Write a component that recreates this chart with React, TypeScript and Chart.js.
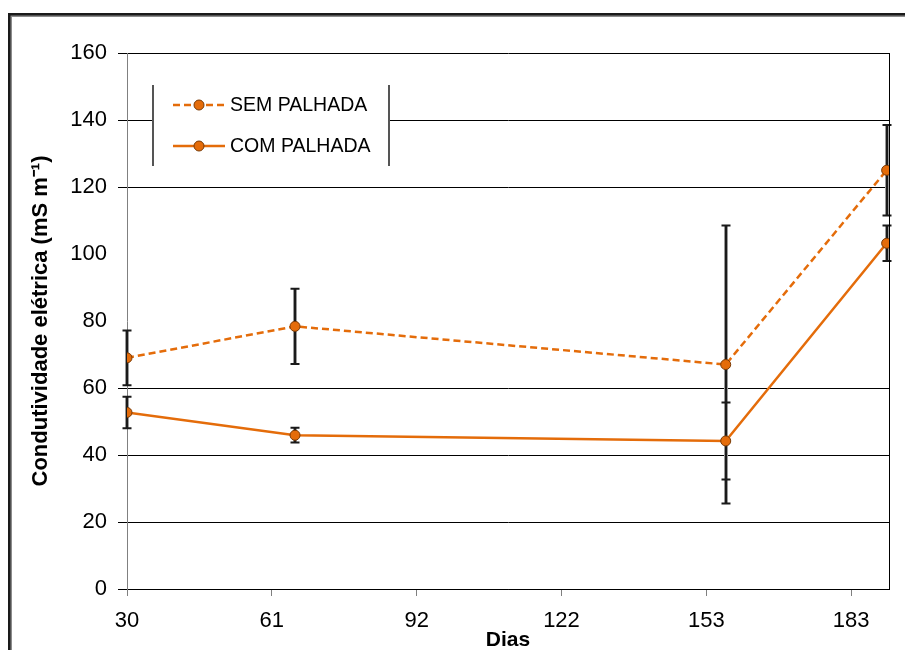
import React, { useEffect, useRef } from "react";
import { Chart, registerables } from "chart.js";

Chart.register(...registerables);

const FONT = "'Liberation Sans', Arial, sans-serif";

// Data
const days = [30, 65.5, 156.5, 190.5];
const semPalhada = [69, 78.4, 67, 125];
const semErr = [8.2, 11.2, 41.5, 13.5];
const comPalhada = [52.7, 45.9, 44.2, 103.2];
const comErr = [4.7, 2.2, 11.5, 5.3];

const xTickValues = [30, 60.6, 91.2, 121.8, 152.4, 183];
const xTickLabels = ["30", "61", "92", "122", "153", "183"];
const hiddenYGrid = [80, 100];

const seriesNames = ["SEM PALHADA", "COM PALHADA"];
const ORANGE = "#E46C0A";
const MARKER_BORDER = "#7A3A05";

const backgroundPlugin = {
  id: "bgFrame",
  beforeDraw(chart: any) {
    const { ctx, width, height } = chart;
    ctx.save();
    ctx.fillStyle = "#fff";
    ctx.fillRect(0, 0, width, height);
    ctx.restore();
  },
  afterDraw(chart: any) {
    const { ctx, width, height, chartArea } = chart;
    ctx.save();
    ctx.strokeStyle = "#000";
    ctx.lineWidth = 1;
    ctx.beginPath();
    ctx.moveTo(Math.round(chartArea.right) + 0.5, chartArea.top);
    ctx.lineTo(Math.round(chartArea.right) + 0.5, chartArea.bottom);
    ctx.stroke();
    ctx.fillStyle = "#8c8c8c";
    ctx.fillRect(10, 15, width - 10, 2);
    ctx.fillRect(10, 15, 2, height - 15);
    ctx.fillStyle = "#1a1a1a";
    ctx.fillRect(8, 13, width - 8, 2.5);
    ctx.fillRect(8, 13, 2.5, height - 13);
    ctx.restore();
  },
};

const errorBarPlugin = {
  id: "errorBars",
  beforeDatasetsDraw(chart: any) {
    const { ctx } = chart;
    const x = chart.scales.x;
    const y = chart.scales.y;
    const errs = [semErr, comErr];
    const vals = [semPalhada, comPalhada];
    ctx.save();
    vals.forEach((arr, di) => {
      arr.forEach((v, i) => {
        const px = Math.round(x.getPixelForValue(days[i]));
        const yt = y.getPixelForValue(v + errs[di][i]);
        const yb = y.getPixelForValue(v - errs[di][i]);
        ctx.strokeStyle = "#9a9a9a";
        ctx.lineWidth = 4;
        ctx.beginPath();
        ctx.moveTo(px, yt);
        ctx.lineTo(px, yb);
        ctx.stroke();
        ctx.strokeStyle = "#1a1a1a";
        ctx.lineWidth = 2;
        ctx.beginPath();
        ctx.moveTo(px, yt);
        ctx.lineTo(px, yb);
        ctx.stroke();
        ctx.beginPath();
        ctx.moveTo(px - 4.5, yt);
        ctx.lineTo(px + 4.5, yt);
        ctx.moveTo(px - 4.5, yb);
        ctx.lineTo(px + 4.5, yb);
        ctx.stroke();
      });
    });
    ctx.restore();
  },
};

const legendPlugin = {
  id: "customLegend",
  afterDraw(chart: any) {
    const { ctx } = chart;
    const left = 153;
    const right = 389;
    const top = 85;
    const bottom = 166;
    ctx.save();
    ctx.fillStyle = "#fff";
    ctx.fillRect(left, top, right - left, bottom - top);
    ctx.strokeStyle = "#555";
    ctx.lineWidth = 2;
    ctx.beginPath();
    ctx.moveTo(left, top);
    ctx.lineTo(left, bottom);
    ctx.moveTo(right, top);
    ctx.lineTo(right, bottom);
    ctx.stroke();
    const rows = [105, 146];
    rows.forEach((ry, i) => {
      ctx.strokeStyle = ORANGE;
      ctx.lineWidth = 2.5;
      ctx.setLineDash(i === 0 ? [7, 4] : []);
      ctx.beginPath();
      ctx.moveTo(173, ry);
      ctx.lineTo(225, ry);
      ctx.stroke();
      ctx.setLineDash([]);
      ctx.fillStyle = ORANGE;
      ctx.strokeStyle = MARKER_BORDER;
      ctx.lineWidth = 1;
      ctx.beginPath();
      ctx.arc(199, ry, 5, 0, Math.PI * 2);
      ctx.fill();
      ctx.stroke();
      ctx.fillStyle = "#000";
      ctx.font = `19.5px ${FONT}`;
      ctx.textBaseline = "middle";
      ctx.textAlign = "left";
      ctx.fillText(seriesNames[i], 230, ry + 1);
    });
    ctx.restore();
  },
};

export default function App() {
  const ref = useRef<HTMLCanvasElement | null>(null);

  useEffect(() => {
    if (!ref.current) return;
    const chart = new Chart(ref.current, {
      type: "line",
      data: {
        datasets: [
          {
            label: seriesNames[0],
            data: days.map((d, i) => ({ x: d, y: semPalhada[i] })),
            borderColor: ORANGE,
            backgroundColor: ORANGE,
            borderWidth: 2.5,
            borderDash: [7, 4],
            pointRadius: 5,
            pointBackgroundColor: ORANGE,
            pointBorderColor: MARKER_BORDER,
            pointBorderWidth: 1,
            tension: 0,
          },
          {
            label: seriesNames[1],
            data: days.map((d, i) => ({ x: d, y: comPalhada[i] })),
            borderColor: ORANGE,
            backgroundColor: ORANGE,
            borderWidth: 2.5,
            pointRadius: 5,
            pointBackgroundColor: ORANGE,
            pointBorderColor: MARKER_BORDER,
            pointBorderWidth: 1,
            tension: 0,
          },
        ],
      },
      options: {
        animation: false,
        responsive: false,
        maintainAspectRatio: false,
        layout: { padding: { left: 0, top: 53, right: 16, bottom: 0 } },
        plugins: {
          legend: { display: false },
          tooltip: { enabled: false },
        },
        scales: {
          x: {
            type: "linear",
            min: 30,
            max: 191,
            afterBuildTicks: (s: any) => {
              s.ticks = xTickValues.map((v) => ({ value: v }));
            },
            afterFit: (s: any) => {
              s.height = 61;
            },
            ticks: {
              autoSkip: false,
              maxRotation: 0,
              padding: 12,
              color: "#000",
              font: { family: FONT, size: 22 },
              callback: (_v: any, i: number) => xTickLabels[i],
            },
            grid: {
              drawOnChartArea: false,
              color: "#808080",
              tickLength: 7,
            },
            border: { color: "#000", width: 1 },
            title: {
              display: true,
              text: "Dias",
              color: "#000",
              font: { family: FONT, size: 21, weight: "bold" },
              padding: { top: 0, bottom: -3 },
            },
          },
          y: {
            min: 0,
            max: 160,
            afterFit: (s: any) => {
              s.width = 127;
            },
            ticks: {
              stepSize: 20,
              padding: 11,
              color: "#000",
              font: { family: FONT, size: 22 },
            },
            grid: {
              color: (c: any) =>
                hiddenYGrid.includes(c.tick?.value) ? "rgba(0,0,0,0)" : "#000",
              lineWidth: 1,
              tickLength: 9,
            },
            border: { color: "#808080", width: 1 },
            title: {
              display: true,
              text: "Condutividade elétrica (mS m⁻¹)",
              color: "#000",
              font: { family: FONT, size: 22, weight: "bold" },
              padding: { top: 28, bottom: 0 },
            },
          },
        },
      },
      plugins: [backgroundPlugin, errorBarPlugin, legendPlugin],
    } as any);
    return () => chart.destroy();
  }, []);

  return (
    <div style={{ position: "absolute", left: 0, top: 0, width: 905, height: 650 }}>
      <canvas ref={ref} width={905} height={650} style={{ display: "block" }} />
    </div>
  );
}
